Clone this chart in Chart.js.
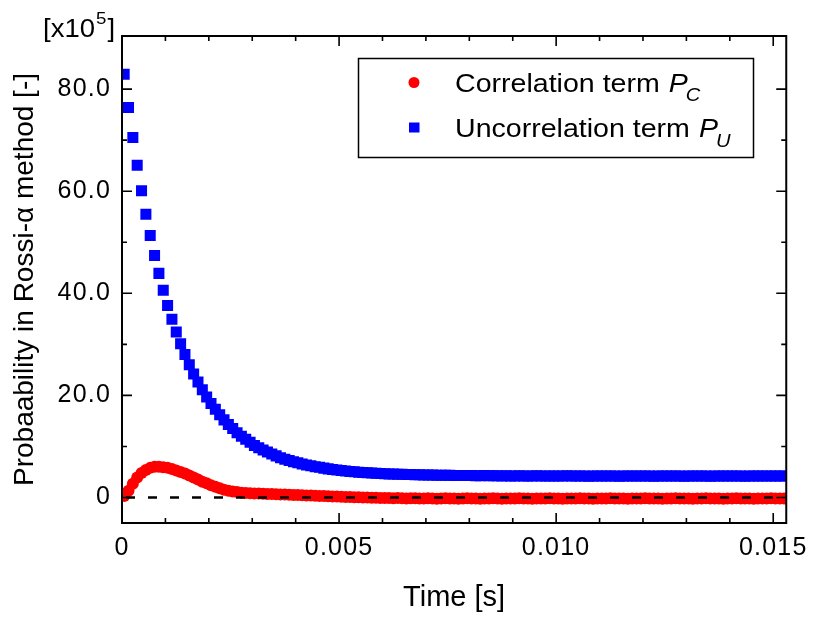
<!DOCTYPE html>
<html>
<head>
<meta charset="utf-8">
<script src="https://cdn.jsdelivr.net/npm/chart.js@4/dist/chart.umd.min.js"></script>
<style>
html,body{margin:0;padding:0;background:#fff;}
canvas{display:block;}
</style>
</head>
<body>
<canvas id="c" width="815" height="617"></canvas>
<script>
// ---------- data ----------
const timeStart = 0.00005;   // s, first sample
const timeStep = 0.0001;     // s, sampling interval

// Correlation term P_C  [x10^5]
const correlationTerm = [
  0.3, 1.3, 2.7, 3.9, 4.8, 5.4, 5.8, 6.0, 6.0, 5.9,
  5.8, 5.6, 5.3, 5.0, 4.7, 4.3, 3.9, 3.5, 3.1, 2.8,
  2.4, 2.1, 1.8, 1.5, 1.3, 1.15, 1.05, 0.95, 0.9, 0.85,
  0.8, 0.8, 0.75, 0.7, 0.7, 0.65, 0.6, 0.6, 0.55, 0.5,
  0.5, 0.45, 0.4, 0.4, 0.35, 0.3, 0.3, 0.25, 0.2, 0.2,
  0.15, 0.1, 0.1, 0.05, 0.05, 0, 0, -0.05, -0.05, -0.1,
  -0.1, -0.1, -0.15, -0.1, -0.15, -0.2, -0.15, -0.15, -0.2, -0.2,
  -0.15, -0.2, -0.25, -0.2, -0.15, -0.2, -0.2, -0.25, -0.2, -0.15,
  -0.2, -0.2, -0.25, -0.2, -0.2, -0.15, -0.2, -0.25, -0.2, -0.2,
  -0.2, -0.15, -0.2, -0.2, -0.25, -0.2, -0.2, -0.2, -0.15, -0.2,
  -0.2, -0.25, -0.2, -0.2, -0.2, -0.15, -0.2, -0.2, -0.25, -0.2,
  -0.2, -0.2, -0.15, -0.2, -0.2, -0.2, -0.25, -0.2, -0.2, -0.2,
  -0.15, -0.2, -0.2, -0.2, -0.25, -0.2, -0.2, -0.15, -0.2, -0.2,
  -0.2, -0.25, -0.2, -0.2, -0.15, -0.2, -0.2, -0.2, -0.25, -0.2,
  -0.2, -0.15, -0.2, -0.2, -0.2, -0.25, -0.2, -0.2, -0.2, -0.15,
  -0.2, -0.2, -0.2
];

// Uncorrelation term P_U  [x10^5]
const uncorrelationTerm = [
  82.9, 76.4, 70.5, 65.1, 60.1, 55.5, 51.3, 47.4, 43.9, 40.6,
  37.6, 34.9, 32.4, 30.1, 28.0, 26.0, 24.2, 22.6, 21.1, 19.7,
  18.4, 17.3, 16.2, 15.2, 14.3, 13.5, 12.7, 12.0, 11.4, 10.8,
  10.2, 9.75, 9.3, 8.9, 8.5, 8.15, 7.8, 7.5, 7.25, 7.0,
  6.8, 6.55, 6.35, 6.2, 6.0, 5.9, 5.75, 5.6, 5.5, 5.4,
  5.3, 5.2, 5.1, 5.05, 4.95, 4.9, 4.85, 4.8, 4.75, 4.7,
  4.65, 4.6, 4.6, 4.55, 4.55, 4.5, 4.5, 4.45, 4.45, 4.4,
  4.4, 4.4, 4.35, 4.35, 4.35, 4.35, 4.3, 4.3, 4.3, 4.3,
  4.3, 4.25, 4.25, 4.3, 4.25, 4.25, 4.25, 4.2, 4.25, 4.2,
  4.2, 4.25, 4.2, 4.2, 4.2, 4.25, 4.2, 4.2, 4.2, 4.2,
  4.2, 4.2, 4.25, 4.2, 4.2, 4.2, 4.2, 4.15, 4.2, 4.2,
  4.2, 4.2, 4.2, 4.2, 4.15, 4.2, 4.2, 4.2, 4.2, 4.2,
  4.2, 4.2, 4.15, 4.2, 4.2, 4.2, 4.2, 4.2, 4.2, 4.15,
  4.2, 4.2, 4.2, 4.2, 4.2, 4.15, 4.2, 4.2, 4.2, 4.2,
  4.2, 4.2, 4.2, 4.15, 4.2, 4.2, 4.2, 4.2, 4.2, 4.2,
  4.2, 4.2, 4.2
];

// dashed reference line at zero
const zeroLineX = [0, 0.0153];
const zeroLineY = [0, 0];

// ticks
const xTickValues = [0, 0.001, 0.002, 0.003, 0.004, 0.005, 0.006, 0.007, 0.008,
                     0.009, 0.010, 0.011, 0.012, 0.013, 0.014, 0.015];
const xTickLabels = ['0', '', '', '', '', '0.005', '', '', '', '', '0.010', '', '', '', '', '0.015'];
const yTickValues = [0, 10, 20, 30, 40, 50, 60, 70, 80];
const yTickLabels = ['0', '', '20.0', '', '40.0', '', '60.0', '', '80.0'];

// texts
const seriesNames = ['Correlation term', 'Uncorrelation term'];
const seriesSymbols = ['P', 'P'];
const seriesSubscripts = ['C', 'U'];
const xTitle = 'Time [s]';
const yTitle = 'Probaability in Rossi-\u03b1 method [-]';
const yMultiplier = ['[x10', '5', ']'];

// ---------- chart ----------
const FONT = "'Liberation Sans', Arial, Helvetica, sans-serif";
const RED = '#FF0000';
const BLUE = '#0000FF';

const times = correlationTerm.map((_, i) => +(timeStart + i * timeStep).toFixed(6));
const toPoints = (ys) => ys.map((y, i) => ({ x: times[i], y }));

function stretchText(ctx, text, x, y, font, sx) {
  ctx.save();
  ctx.font = font;
  ctx.textBaseline = 'alphabetic';
  ctx.textAlign = 'left';
  const w = ctx.measureText(text).width * sx;
  ctx.translate(x, y);
  ctx.scale(sx, 1);
  ctx.fillText(text, 0, 0);
  ctx.restore();
  return w;
}

const framePlugin = {
  id: 'frame',
  beforeDraw(chart) {
    chart.ctx.letterSpacing = '0px';
  },
  afterDatasetsDraw(chart) {
    const { ctx, chartArea: a, scales: { x, y } } = chart;
    // dashed zero line, on top of the markers
    ctx.save();
    ctx.beginPath();
    ctx.rect(a.left, a.top, a.right - a.left, a.bottom - a.top);
    ctx.clip();
    ctx.strokeStyle = '#000';
    ctx.lineWidth = 2.5;
    ctx.setLineDash([9, 13]);
    ctx.lineDashOffset = -4;
    ctx.beginPath();
    zeroLineX.forEach((xv, i) => {
      const px = x.getPixelForValue(xv);
      const py = y.getPixelForValue(zeroLineY[i]);
      if (i === 0) ctx.moveTo(px, py); else ctx.lineTo(px, py);
    });
    ctx.stroke();
    ctx.restore();

    // frame and inward ticks on all four sides
    ctx.save();
    ctx.strokeStyle = '#000';
    ctx.lineWidth = 1.6;
    ctx.beginPath();
    xTickValues.forEach((v, i) => {
      const px = x.getPixelForValue(v);
      const len = xTickLabels[i] ? 10 : 5;
      ctx.moveTo(px, a.bottom); ctx.lineTo(px, a.bottom - len);
      ctx.moveTo(px, a.top); ctx.lineTo(px, a.top + len);
    });
    yTickValues.forEach((v, i) => {
      const py = y.getPixelForValue(v);
      const len = yTickLabels[i] ? 10 : 5;
      ctx.moveTo(a.left, py); ctx.lineTo(a.left + len, py);
      ctx.moveTo(a.right, py); ctx.lineTo(a.right - len, py);
    });
    ctx.stroke();
    ctx.lineWidth = 2;
    ctx.strokeRect(a.left, a.top, a.right - a.left, a.bottom - a.top);
    ctx.restore();
    // tick labels (drawn after this hook) get slightly wider spacing
    ctx.letterSpacing = '1.2px';
  },
  afterDraw(chart) {
    const ctx = chart.ctx;
    ctx.letterSpacing = '0px';
    ctx.save();
    // legend box
    ctx.strokeStyle = '#000';
    ctx.lineWidth = 1.5;
    ctx.strokeRect(358.5, 58.5, 395, 99);
    const ds = chart.data.datasets;
    // markers
    ctx.fillStyle = ds[0].backgroundColor;
    ctx.beginPath();
    ctx.arc(414, 82.5, 5.5, 0, Math.PI * 2);
    ctx.fill();
    ctx.fillStyle = ds[1].backgroundColor;
    ctx.fillRect(409, 122.5, 10.5, 10);
    // texts
    ctx.fillStyle = '#000';
    const sx = 1.12;
    const baselines = [91.7, 137];
    seriesNames.forEach((name, i) => {
      const bl = baselines[i];
      const w = stretchText(ctx, name, 455, bl, `25.5px ${FONT}`, sx);
      const px = 455 + w + 9;
      stretchText(ctx, seriesSymbols[i], px, bl, `italic 25.5px ${FONT}`, sx);
      stretchText(ctx, seriesSubscripts[i], px + 17, bl + 9.5, `italic 18px ${FONT}`, sx);
    });
    // multiplier label
    let xx = 43;
    xx += stretchText(ctx, yMultiplier[0], xx, 37, `25px ${FONT}`, 1.1);
    xx += stretchText(ctx, yMultiplier[1], xx + 1, 24, `17px ${FONT}`, 1.1) + 1;
    stretchText(ctx, yMultiplier[2], xx + 1, 37, `25px ${FONT}`, 1.1);
    ctx.restore();
  }
};

new Chart(document.getElementById('c'), {
  type: 'scatter',
  data: {
    datasets: [
      {
        label: seriesNames[0] + ' ' + seriesSymbols[0] + seriesSubscripts[0],
        data: toPoints(correlationTerm),
        pointStyle: 'circle',
        pointRadius: 6,
        backgroundColor: RED,
        pointBackgroundColor: RED,
        borderWidth: 0,
        pointBorderWidth: 0,
        order: 1,
        clip: 0
      },
      {
        label: seriesNames[1] + ' ' + seriesSymbols[1] + seriesSubscripts[1],
        data: toPoints(uncorrelationTerm),
        pointStyle: 'rect',
        pointRadius: 7.8,
        backgroundColor: BLUE,
        pointBackgroundColor: BLUE,
        borderWidth: 0,
        pointBorderWidth: 0,
        order: 2,
        clip: 0
      }
    ]
  },
  options: {
    responsive: false,
    animation: false,
    devicePixelRatio: 1,
    events: [],
    layout: { padding: { left: 0, right: 25, top: 36, bottom: 0 } },
    plugins: { legend: { display: false }, tooltip: { enabled: false } },
    scales: {
      x: {
        type: 'linear',
        min: 0,
        max: 0.0153,
        afterBuildTicks: (s) => { s.ticks = xTickValues.map(v => ({ value: v })); },
        afterFit: (s) => { s.height = 94; },
        grid: { display: false, drawTicks: false },
        border: { display: false },
        ticks: {
          autoSkip: false, maxRotation: 0, minRotation: 0, padding: 10, z: 1,
          color: '#000', font: { family: FONT, size: 25 },
          callback: (v, i) => xTickLabels[i]
        },
        title: {
          display: true, text: xTitle, color: '#000',
          font: { family: FONT, size: 29 }, padding: { top: 0, bottom: 2 }
        }
      },
      y: {
        type: 'linear',
        min: -5,
        max: 90.4,
        afterBuildTicks: (s) => { s.ticks = yTickValues.map(v => ({ value: v })); },
        afterFit: (s) => { s.width = 122; },
        grid: { display: false, drawTicks: false },
        border: { display: false },
        ticks: {
          autoSkip: false, padding: 11, z: 1,
          color: '#000', font: { family: FONT, size: 25 },
          callback: (v, i) => yTickLabels[i]
        },
        title: {
          display: true, text: yTitle, color: '#000',
          font: { family: FONT, size: 28 }, padding: { top: 8, bottom: 0 }
        }
      }
    }
  },
  plugins: [framePlugin]
});
</script>
</body>
</html>
